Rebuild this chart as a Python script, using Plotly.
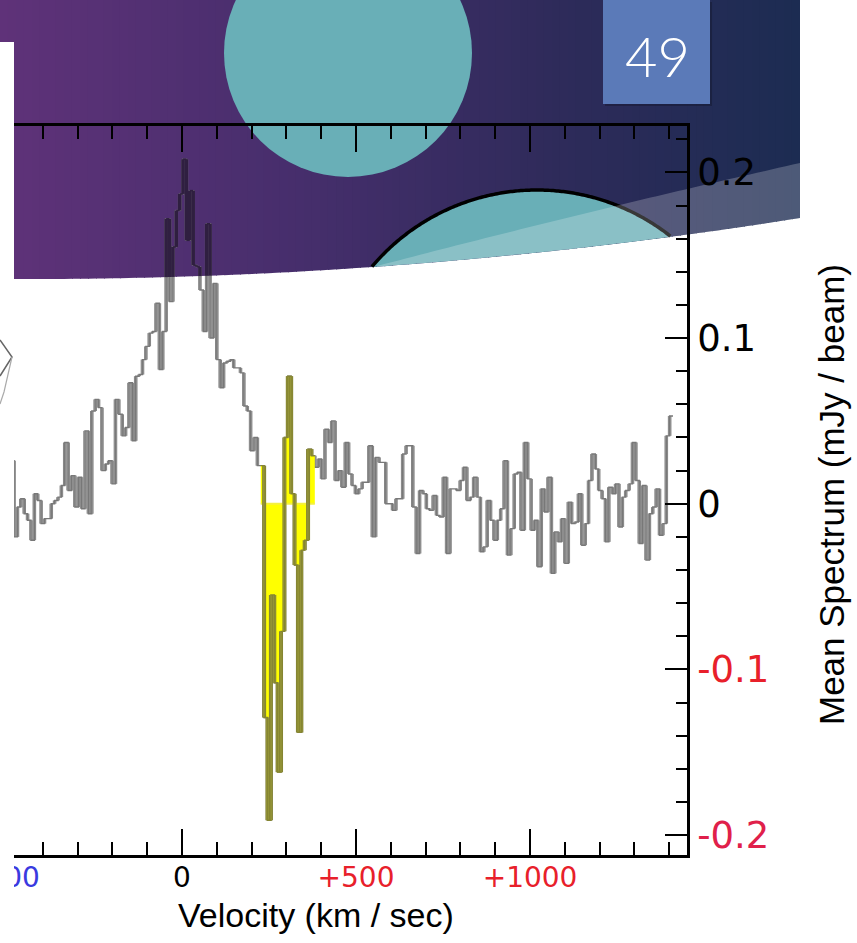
import numpy as np
import plotly.graph_objects as go

W, H = 857, 943

# ---------------- data ----------------
# spectrum channels (km/s): first channel left edge and channel width
v_start = -502.0
dv = 9.71
# mean spectrum per channel (mJy / beam)
flux = [
    0.026, 0.026, -0.020, -0.002, 0.003, -0.006, -0.010, -0.022, 0.006, 0.002,
    -0.012, -0.009, -0.009, 0.000, 0.002, 0.004, 0.011, 0.037, 0.008, 0.017,
    -0.002, 0.016, -0.003, 0.044, -0.006, 0.056, 0.063, 0.058, 0.020, 0.024,
    0.026, 0.012, 0.063, 0.054, 0.041, 0.046, 0.073, 0.038, 0.077, 0.078,
    0.087, 0.095, 0.103, 0.104, 0.121, 0.081, 0.104, 0.172, 0.122, 0.155,
    0.177, 0.187, 0.208, 0.159, 0.189, 0.144, 0.143, 0.129, 0.104, 0.169,
    0.100, 0.133, 0.087, 0.070, 0.085, 0.086, 0.087, 0.082, 0.082, 0.079,
    0.059, 0.056, 0.032, 0.040, 0.023, 0.023, -0.129, -0.191, -0.055, -0.108,
    -0.162, -0.077, 0.040, 0.077, 0.006, -0.037, -0.138, -0.028, -0.022, 0.033,
    0.029, 0.022, 0.027, 0.015, 0.045, 0.037, 0.050, 0.014, 0.020, 0.010,
    0.037, 0.018, 0.011, 0.006, 0.009, 0.013, 0.013, 0.035, -0.020, 0.028,
    0.025, 0.025, 0.000, 0.000, -0.004, 0.003, 0.003, 0.030, 0.035, 0.035,
    -0.002, -0.030, 0.008, 0.006, -0.003, -0.004, 0.005, -0.007, -0.008, 0.016,
    -0.030, 0.009, 0.009, 0.008, 0.014, 0.022, 0.002, 0.004, 0.016, 0.004,
    -0.029, -0.026, 0.002, -0.010, -0.022, -0.010, -0.003, 0.026, -0.031, -0.015,
    0.018, 0.019, -0.016, 0.037, 0.015, -0.016, -0.010, -0.038, 0.009, -0.005,
    0.016, -0.042, -0.017, -0.023, -0.009, -0.036, 0.001, -0.012, -0.011, 0.006,
    -0.025, -0.012, 0.014, 0.030, 0.021, 0.008, 0.003, -0.023, 0.010, 0.006,
    0.012, -0.014, 0.004, 0.008, 0.012, 0.037, 0.014, -0.024, 0.011, -0.034,
    -0.006, -0.002, 0.009, -0.019, -0.012, 0.041, 0.053,
]
# absorption channels highlighted in yellow (index range, end exclusive)
abs_lo, abs_hi = 75, 91

xtick_vals = [-500, 0, 500, 1000]
xtick_text = ['<span style="color:#3a3ae0">-500</span>', '0',
              '<span style="color:#e8202a">+500</span>',
              '<span style="color:#e8202a">+1000</span>']
ytick_vals = [-0.2, -0.1, 0.0, 0.1, 0.2]
ytick_text = ['<span style="color:#e0204a">-0.2</span>',
              '<span style="color:#e8202a">-0.1</span>', '0', '0.1', '0.2']
x_title = "Velocity (km / sec)"
y_title = "Mean Spectrum (mJy / beam)"
slide_number = "49"
slide_date = "4/20/14"

X_RANGE = [-500, 1451]
Y_RANGE = [-0.212, 0.228]
XPIX = [8, 687]      # plot area, pixels
YPIX = [126, 855]

edges = [v_start + i * dv for i in range(len(flux) + 1)]


def verticals(e, f, lo, hi):
    xs, ys = [], []
    for i in range(max(lo, 1), hi):
        xs += [e[i], e[i], None]
        ys += [f[i - 1], f[i], None]
    return xs, ys


# ---------------- slide geometry helpers ----------------
def P(x, y):
    return x / W, 1 - y / H


def path_from(pts, close=True):
    s = ""
    for i, (x, y) in enumerate(pts):
        px, py = P(x, y)
        s += ("M" if i == 0 else "L") + f"{px:.5f},{py:.5f} "
    return s + ("Z" if close else "")


cb = np.polyfit([14, 372, 800], [279, 267, 218], 2)
ybot = lambda x: float(np.polyval(cb, x))
cu = np.polyfit([377, 628, 800], [266, 203, 163], 2)
ytop_band = lambda x: float(np.polyval(cu, x))


def v2px(v):
    return XPIX[0] + (v - X_RANGE[0]) * (XPIX[1] - XPIX[0]) / (X_RANGE[1] - X_RANGE[0])


def px2val(py):
    return Y_RANGE[1] - (py - YPIX[0]) * (Y_RANGE[1] - Y_RANGE[0]) / (YPIX[1] - YPIX[0])


fig = go.Figure()

# gray spectrum
vx, vy = verticals(edges, flux, 1, len(flux))
fig.add_trace(go.Scatter(x=vx, y=vy, mode="lines", line=dict(color="#868686", width=3.6),
                         hoverinfo="skip", showlegend=False))
fig.add_trace(go.Scatter(x=vx, y=vy, mode="lines", line=dict(color="#b8b8b8", width=1.6),
                         hoverinfo="skip", showlegend=False))
fig.add_trace(go.Scatter(x=edges, y=flux + [flux[-1]], mode="lines", line_shape="hv",
                         line=dict(color="#787878", width=1.4), showlegend=False))

# part of the spectrum under the (multiplied) banner: darker
dvx, dvy, dhx, dhy = [], [], [], []
for i in range(1, len(flux)):
    yb = px2val(ybot(v2px(edges[i])))
    lo, hi = min(flux[i - 1], flux[i]), max(flux[i - 1], flux[i])
    if hi > yb:
        dvx += [edges[i], edges[i], None]
        dvy += [max(lo, yb), hi, None]
for i in range(len(flux)):
    yb = px2val(ybot(v2px(edges[i] + dv / 2)))
    if flux[i] > yb:
        dhx += [edges[i], edges[i + 1], None]
        dhy += [flux[i], flux[i], None]
fig.add_trace(go.Scatter(x=dvx, y=dvy, mode="lines", line=dict(color="#2f1f40", width=3.6),
                         hoverinfo="skip", showlegend=False))
fig.add_trace(go.Scatter(x=dhx, y=dhy, mode="lines", line=dict(color="#2f1f40", width=1.5),
                         hoverinfo="skip", showlegend=False))

# yellow absorption region
ax_e = edges[abs_lo:abs_hi + 1]
ax_f = flux[abs_lo:abs_hi] + [flux[abs_hi - 1]]
fig.add_trace(go.Scatter(x=ax_e, y=ax_f, mode="lines", line_shape="hv", fill="tozeroy",
                         fillcolor="#ffff00", line=dict(color="rgba(0,0,0,0)", width=0),
                         showlegend=False, hoverinfo="skip"))
fig.add_trace(go.Scatter(x=[ax_e[0], ax_e[-1]], y=[0, 0], mode="lines",
                         line=dict(color="#f4f040", width=2), showlegend=False, hoverinfo="skip"))
ovx, ovy = verticals(edges, flux, abs_lo + 1, abs_hi)
fig.add_trace(go.Scatter(x=ovx, y=ovy, mode="lines", line=dict(color="#858532", width=4),
                         hoverinfo="skip", showlegend=False))
fig.add_trace(go.Scatter(x=ovx, y=ovy, mode="lines", line=dict(color="#b2b244", width=1.8),
                         hoverinfo="skip", showlegend=False))
fig.add_trace(go.Scatter(x=ax_e, y=ax_f, mode="lines", line_shape="hv",
                         line=dict(color="#858532", width=1.4), showlegend=False, hoverinfo="skip"))

# ---------------- decoration (slide) ----------------
shapes = []
stops = [(0, (95, 50, 121)), (300, (70, 46, 108)), (560, (46, 43, 90)), (800, (28, 44, 82))]


def grad(x):
    for (x0, c0), (x1, c1) in zip(stops[:-1], stops[1:]):
        if x0 <= x <= x1:
            t = (x - x0) / (x1 - x0)
            return tuple(int(round(a + (b - a) * t)) for a, b in zip(c0, c1))
    return stops[-1][1]


step = 8
for x0 in range(0, 800, step):
    x1 = min(x0 + step + 1, 800)
    pts = [(x0, 0), (x1, 0), (x1, ybot(x1)), (x0, ybot(x0))]
    c = grad(x0 + step / 2)
    shapes.append(dict(type="path", path=path_from(pts), xref="paper", yref="paper",
                       fillcolor=f"rgb{c}", line=dict(width=0), layer="below"))

# teal circle at top
x0, y0 = P(224, 177)
x1, y1 = P(472, -71)
shapes.append(dict(type="circle", xref="paper", yref="paper", x0=x0, x1=x1, y0=y0, y1=y1,
                   fillcolor="#69afb7", line=dict(width=0), layer="below"))

# teal circle clipped by banner bottom
cx, cy, r = 537.0, 406.0, 216.0
ang = np.linspace(np.pi, 2 * np.pi, 400)
arc = [(cx + r * np.cos(a), cy + r * np.sin(a)) for a in ang]
arc = [(x, y) for x, y in arc if y <= ybot(x)]
xs_b = np.linspace(arc[-1][0], arc[0][0], 40)
bottom = [(x, ybot(x)) for x in xs_b]
shapes.append(dict(type="path", path=path_from(arc + bottom), xref="paper", yref="paper",
                   fillcolor="#69afb7", line=dict(width=0), layer="below"))
shapes.append(dict(type="path", path=path_from(arc, close=False), xref="paper", yref="paper",
                   line=dict(color="black", width=3.5), layer="below"))

# light band
xs = np.linspace(377, 800, 60)
band = [(x, ybot(x)) for x in xs] + [(x, ytop_band(x)) for x in xs[::-1]]
shapes.append(dict(type="path", path=path_from(band), xref="paper", yref="paper",
                   fillcolor="rgba(255,255,255,0.22)", line=dict(width=0), layer="below"))

# white strip at left (slide edge)
a0, b0 = P(0, 943)
a1, b1 = P(14, 42)
shapes.append(dict(type="rect", xref="paper", yref="paper", x0=a0, x1=a1, y0=b0, y1=b1,
                   fillcolor="white", line=dict(width=0), layer="above"))
# fragment of a neighbouring drawing at the left edge
frag = [(0, 340), (12, 357), (0, 376)]
shapes.append(dict(type="path", path=path_from(frag, close=False), xref="paper", yref="paper",
                   line=dict(color="#666666", width=1.5), layer="above"))
frag2 = [(12, 357), (4, 392), (0, 404)]
shapes.append(dict(type="path", path=path_from(frag2, close=False), xref="paper", yref="paper",
                   line=dict(color="#aaaaaa", width=1.2), layer="above"))

# slide number box
a0, b0 = P(605, 106)
a1, b1 = P(712, 2)
shapes.append(dict(type="rect", xref="paper", yref="paper", x0=a0, x1=a1, y0=b0, y1=b1,
                   fillcolor="rgba(0,0,0,0.22)", line=dict(width=0), layer="above"))
a0, b0 = P(603, 104)
a1, b1 = P(710, 0)
shapes.append(dict(type="rect", xref="paper", yref="paper", x0=a0, x1=a1, y0=b0, y1=b1,
                   fillcolor="#5b7ab8", line=dict(width=0), layer="above"))

annotations = [
    dict(text=slide_number, x=657 / W, y=1 - 55 / H, xref="paper", yref="paper",
         showarrow=False, font=dict(family="Lato", size=56, color="white", weight=300),
         xanchor="center", yanchor="middle"),
    dict(text=x_title, x=316 / W, y=1 - 915 / H, xref="paper", yref="paper",
         showarrow=False, font=dict(family="Liberation Sans", size=34, color="black"),
         xanchor="center", yanchor="middle"),
    dict(text=y_title, x=831 / W, y=1 - 495 / H, xref="paper", yref="paper",
         showarrow=False, textangle=-90,
         font=dict(family="Liberation Sans", size=35, color="black"),
         xanchor="center", yanchor="middle"),
    dict(text=slide_date, x=742 / W, y=1 - 950 / H, xref="paper", yref="paper",
         showarrow=False, font=dict(family="Liberation Sans", size=17, color="#2f4f9f"),
         xanchor="center", yanchor="middle"),
]

fig.update_layout(
    width=W, height=H, margin=dict(l=0, r=0, t=0, b=0, autoexpand=False),
    paper_bgcolor="white", plot_bgcolor="rgba(0,0,0,0)",
    shapes=shapes, annotations=annotations, showlegend=False,
    xaxis=dict(domain=[XPIX[0] / W, XPIX[1] / W], range=X_RANGE, showgrid=False,
               automargin=False,
               zeroline=False, showline=True, linecolor="black", linewidth=2.5,
               mirror="ticks", ticks="inside", ticklen=26, tickwidth=2, tickcolor="black",
               tickvals=xtick_vals, ticktext=xtick_text, ticklabeloverflow="allow",
               ticklabelstandoff=-4,
               tickfont=dict(family="DejaVu Sans", size=28, color="black"),
               minor=dict(dtick=100, tick0=0, ticks="inside", ticklen=13, tickwidth=2,
                          tickcolor="black", showgrid=False)),
    yaxis=dict(domain=[1 - YPIX[1] / H, 1 - YPIX[0] / H], range=Y_RANGE, side="right",
               automargin=False,
               showgrid=False, zeroline=False, showline=True, linecolor="black",
               linewidth=2.5, mirror=True, ticks="inside", ticklen=22, tickwidth=2,
               tickcolor="black", tickvals=ytick_vals, ticktext=ytick_text,
               tickfont=dict(family="DejaVu Sans", size=37, color="black"),
               ticklabelstandoff=0, ticklabeloverflow="allow",
               minor=dict(dtick=0.02, tick0=0, ticks="inside", ticklen=11, tickwidth=2,
                          tickcolor="black", showgrid=False)),
)

fig.write_html("out.html")
